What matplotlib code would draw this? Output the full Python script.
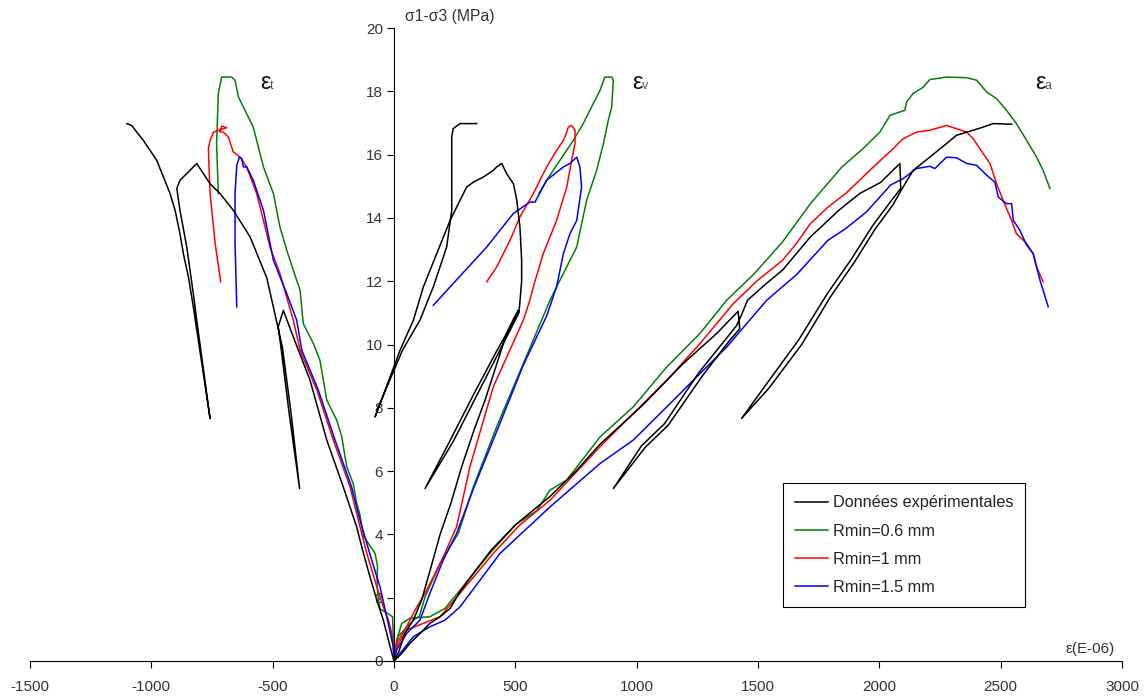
import matplotlib
matplotlib.use('Agg')
import matplotlib.pyplot as plt
from matplotlib.lines import Line2D
from matplotlib.transforms import offset_copy

plt.rcParams['font.family'] = ['Liberation Sans', 'DejaVu Sans']
plt.rcParams['axes.unicode_minus'] = False

# ---------------- Experimental data (black) ----------------
exp_t_eps = [0, -16, -44, -71, -99, -126, -154, -209, -277, -346, -415, -456,
             -477, -466, -432, -389, -424, -460, -480,
             -524, -593, -662, -717, -758, -813,
             -854, -882, -895, -882, -854, -827, -813, -785, -758,
             -790, -827, -847, -868, -882, -902, -923, -950, -978, -1005, -1033, -1060, -1081, -1101]
exp_t_sig = [0, 0.45, 1.29, 1.93, 2.66, 3.40, 4.24, 5.50, 6.98, 8.87, 10.24, 11.08,
             10.56, 9.92, 7.82, 5.45, 7.82, 9.92, 10.6,
             12.10, 13.40, 14.24, 14.77, 15.08, 15.72,
             15.40, 15.19, 14.93, 14.24, 13.08, 11.61, 10.77, 9.2, 7.66,
             9.3, 11.19, 12.13, 12.87, 13.50, 14.24, 14.77, 15.29, 15.82, 16.13, 16.45, 16.71, 16.92, 16.98]

exp_v_eps = [0, 20, 45, 80, 114, 150, 190, 235, 279, 330, 375, 420, 464, 492, 512,
             508, 420, 330, 230, 128,
             245, 345, 435, 515,
             526, 526, 519, 506, 492, 464, 444,
             423, 409, 368, 327, 300, 286, 231, 176, 121, 80, 25, -78,
             -60, 35, 107, 162, 217, 238, 238, 238, 244, 272, 341]
exp_v_sig = [0, 0.3, 0.87, 1.3, 1.93, 2.9, 4.0, 5.0, 6.14, 7.3, 8.24, 9.3, 10.35, 10.8, 11.08,
             10.95, 9.75, 8.45, 6.95, 5.45,
             6.95, 8.45, 9.8, 11.0,
             12.0, 12.66, 13.71, 14.56, 15.08, 15.40, 15.72,
             15.61, 15.5, 15.29, 15.13, 14.98, 14.77, 13.92, 12.87, 11.82, 10.77, 9.82, 7.71,
             8.1, 9.82, 10.77, 11.82, 13.08, 14.24, 15.82, 16.56, 16.82, 16.98, 16.98]

exp_a_eps = [0, 32, 66, 107, 148, 190, 231, 272, 340, 400, 500, 643, 750, 849, 1027, 1192, 1330, 1418,
             1425, 1380, 1270, 1130, 1035, 904,
             1020, 1115, 1255, 1365, 1412, 1430,
             1457, 1530, 1601, 1716, 1833, 1919, 2005, 2085,
             2088, 2045, 1972, 1885, 1785, 1668, 1530, 1432,
             1545, 1680, 1798, 1897, 1983, 2055, 2092, 2139, 2208, 2277, 2318, 2387, 2428, 2469, 2545]
exp_a_sig = [0, 0.24, 0.56, 0.87, 1.19, 1.40, 1.66, 2.19, 2.9, 3.5, 4.3, 5.2, 6.0, 6.85, 8.1, 9.4, 10.35, 11.05,
             10.5, 10.1, 9.0, 7.45, 6.75, 5.45,
             6.8, 7.5, 9.1, 10.15, 10.6, 10.9,
             11.40, 11.9, 12.35, 13.40, 14.24, 14.77, 15.12, 15.72,
             14.93, 14.5, 13.75, 12.7, 11.6, 10.15, 8.7, 7.66,
             8.62, 10.0, 11.5, 12.6, 13.65, 14.4, 14.9, 15.50, 15.92, 16.35, 16.61, 16.77, 16.87, 16.98, 16.96]

# ---------------- Rmin = 0.6 mm (green) ----------------
g_t_eps = [0, -3, -6, -30, -58, -65, -70, -68, -78, -126, -140, -154, -168, -195, -215, -236, -277, -305,
           -332, -374, -387, -415, -442, -470, -497, -538, -580, -607, -641, -655, -669, -710, -724, -731, -724]
g_t_sig = [0, 0.8, 1.40, 1.52, 1.65, 2.0, 2.4, 3.0, 3.40, 3.95, 4.6, 5.0, 5.6, 6.14, 7.08, 7.61, 8.24, 9.50,
           10.03, 10.66, 11.71, 12.35, 12.98, 13.71, 14.77, 15.61, 16.87, 17.29, 17.82, 18.35, 18.45, 18.45, 17.93, 16.35, 14.77]

g_v_eps = [0, 16, 80, 105, 128, 190, 231, 265, 327, 423, 533, 643, 670, 753, 794, 835, 863, 883, 897, 904,
           897, 869, 849, 821, 780, 739, 684, 629, 598]
g_v_sig = [0, 0.77, 1.29, 1.42, 2.03, 3.08, 3.61, 4.03, 5.50, 7.40, 9.40, 11.40, 11.82, 13.08, 14.56, 15.50, 16.35, 17.08, 17.50, 18.35,
           18.45, 18.45, 18.03, 17.61, 16.98, 16.45, 15.82, 15.19, 14.78]

g_a_eps = [0, 11, 32, 66, 148, 210, 272, 396, 500, 588, 643, 712, 849, 986, 1124, 1261, 1371, 1485, 1601, 1716,
           1846, 1933, 2002, 2044, 2105, 2112, 2139, 2181, 2208, 2277, 2360, 2401, 2442, 2483, 2524, 2565, 2607, 2648, 2675, 2703]
g_a_sig = [0, 0.66, 1.19, 1.35, 1.40, 1.66, 2.24, 3.41, 4.3, 4.75, 5.40, 5.72, 7.08, 8.03, 9.29, 10.35, 11.40, 12.24, 13.24, 14.45,
           15.61, 16.19, 16.71, 17.24, 17.40, 17.66, 17.93, 18.13, 18.37, 18.45, 18.43, 18.35, 17.98, 17.77, 17.40, 16.98, 16.45, 15.92, 15.50, 14.93]

# ---------------- Rmin = 1 mm (red) ----------------
r_t_eps = [0, -3, -9, -23, -44, -71, -112, -147, -181, -250, -318, -387, -415, -470, -511, -538, -566, -607, -634,
           -662, -683, -703, -718, -710, -689, -717, -744, -758, -765, -758, -737, -714]
r_t_sig = [0, 0.5, 0.87, 1.29, 1.71, 2.35, 3.40, 4.45, 5.50, 6.98, 8.56, 9.82, 10.77, 12.24, 13.08, 13.92, 14.77, 15.61, 15.92,
           16.08, 16.56, 16.71, 16.72, 16.9, 16.85, 16.78, 16.71, 16.45, 16.19, 14.77, 13.19, 11.98]

r_v_eps = [0, 11, 52, 87, 135, 203, 258, 313, 409, 533, 560, 574, 615, 670, 712, 732, 746, 746, 732, 718,
           712, 698, 670, 629, 574, 519, 478, 423, 382]
r_v_sig = [0, 0.56, 1.08, 1.61, 2.24, 3.29, 4.24, 6.14, 8.66, 10.77, 11.40, 11.82, 12.87, 13.92, 14.98, 15.82, 16.35, 16.77, 16.92, 16.87,
           16.71, 16.45, 16.13, 15.61, 14.77, 14.03, 13.29, 12.45, 11.98]

r_a_eps = [0, 11, 52, 121, 190, 272, 409, 519, 643, 849, 986, 1124, 1261, 1398, 1499, 1601, 1658, 1716, 1788, 1861,
           1947, 2005, 2057, 2098, 2153, 2208, 2277, 2318, 2360, 2387, 2414, 2456, 2483, 2510, 2545, 2565, 2607, 2634, 2648, 2675]
r_a_sig = [0, 0.45, 0.98, 1.19, 1.40, 2.14, 3.40, 4.3, 5.08, 6.77, 7.82, 8.87, 10.03, 11.29, 12.03, 12.66, 13.19, 13.82, 14.34, 14.77,
           15.40, 15.82, 16.19, 16.50, 16.71, 16.77, 16.92, 16.82, 16.71, 16.50, 16.19, 15.72, 15.08, 14.56, 13.92, 13.50, 13.19, 12.87, 12.45, 11.98]

# ---------------- Rmin = 1.5 mm (blue) ----------------
b_t_eps = [0, -3, -30, -58, -92, -140, -175, -243, -312, -380, -401, -442, -497, -538, -580, -607, -621, -627,
           -637, -648, -655, -655, -648]
b_t_sig = [0, 0.45, 1.40, 2.35, 3.19, 4.45, 5.5, 6.98, 8.56, 9.82, 10.77, 11.61, 12.66, 14.24, 15.19, 15.61, 15.61, 15.87,
           15.92, 15.66, 14.77, 13.19, 11.19]

b_v_eps = [0, 11, 52, 107, 148, 203, 258, 330, 423, 533, 629, 670, 698, 725, 753, 773, 766, 753, 725, 698,
           629, 581, 560, 492, 382, 162]
b_v_sig = [0, 0.35, 0.87, 1.29, 2.14, 3.19, 4.03, 5.5, 7.25, 9.35, 10.9, 11.82, 12.87, 13.50, 13.92, 14.98, 15.61, 15.92, 15.72, 15.61,
           15.19, 14.50, 14.50, 14.14, 13.08, 11.24]

b_a_eps = [0, 25, 80, 148, 210, 272, 437, 643, 849, 986, 1124, 1261, 1371, 1536, 1658, 1788, 1861, 1947, 2034, 2044,
           2098, 2153, 2208, 2229, 2277, 2318, 2360, 2401, 2442, 2476, 2490, 2524, 2545, 2552, 2579, 2607, 2634, 2662, 2696]
b_a_sig = [0, 0.24, 0.77, 1.08, 1.29, 1.71, 3.40, 4.87, 6.24, 6.98, 8.03, 9.08, 9.92, 11.40, 12.2, 13.29, 13.66, 14.19, 14.93, 15.03,
           15.24, 15.56, 15.63, 15.56, 15.92, 15.90, 15.72, 15.66, 15.35, 15.13, 14.66, 14.45, 14.45, 13.92, 13.61, 13.14, 12.87, 12.03, 11.19]

series_labels = ['Données expérimentales', 'Rmin=0.6 mm', 'Rmin=1 mm', 'Rmin=1.5 mm']
series_colors = ['black', '#008000', '#ff0000', '#0000ff']
x_ticks = [-1500, -1000, -500, 0, 500, 1000, 1500, 2000, 2500, 3000]
y_ticks = [0, 2, 4, 6, 8, 10, 12, 14, 16, 18, 20]

fig = plt.figure(figsize=(11.48, 6.98), dpi=100)
ax = fig.add_axes([30 / 1148, 37 / 698, 1092 / 1148, 633 / 698])

branches = [
    [(exp_t_eps, exp_t_sig), (exp_v_eps, exp_v_sig), (exp_a_eps, exp_a_sig)],
    [(g_t_eps, g_t_sig), (g_v_eps, g_v_sig), (g_a_eps, g_a_sig)],
    [(r_t_eps, r_t_sig), (r_v_eps, r_v_sig), (r_a_eps, r_a_sig)],
    [(b_t_eps, b_t_sig), (b_v_eps, b_v_sig), (b_a_eps, b_a_sig)],
]
for k in [1, 2, 3, 0]:
    for (xe, ys) in branches[k]:
        ax.plot(xe, ys, color=series_colors[k], lw=1.1, solid_joinstyle='round')

ax.set_xlim(-1500, 3000)
ax.set_ylim(0, 20)
ax.spines['left'].set_position(('data', 0))
ax.spines['right'].set_visible(False)
ax.spines['top'].set_visible(False)
for s in ['left', 'bottom']:
    ax.spines[s].set_linewidth(0.8)
ax.set_xticks(x_ticks)
ax.set_yticks(y_ticks)
ax.tick_params(axis='both', direction='out', length=5, width=0.8, labelsize=11, labelcolor='#333333')
ax.tick_params(axis='x', pad=9)
ax.tick_params(axis='y', pad=3)

# axis titles
ax.text(45, 20.13, 'σ1-σ3 (MPa)', fontsize=11.3, color='#333333', ha='left', va='bottom')
ax.text(2970, 0.25, 'ε(E-06)', fontsize=11, color='#333333', ha='right', va='baseline')

# strain labels
for xe, sub in [(-552, 't'), (981, 'v'), (2641, 'a')]:
    ax.text(xe, 18.06, 'ε', fontsize=17, color='#111111', ha='left', va='baseline')
    tr = offset_copy(ax.transData, fig=fig, x=9.5, y=0, units='dots')
    ax.text(xe, 18.06, sub, fontsize=9, color='#555555', ha='left', va='baseline', transform=tr)

handles = [Line2D([0], [0], color=c, lw=1.1) for c in series_colors]
leg = ax.legend(handles, series_labels, loc='upper left', bbox_to_anchor=(0.6896, 0.2812),
                frameon=True, fancybox=False, edgecolor='black', framealpha=1, fontsize=11.7,
                handlelength=2.0, labelspacing=0.82, borderpad=0.75, handletextpad=0.3,
                borderaxespad=0)
leg.get_frame().set_linewidth(0.8)
for t in leg.get_texts():
    t.set_color('#222222')

fig.savefig('out.png', dpi=100)
